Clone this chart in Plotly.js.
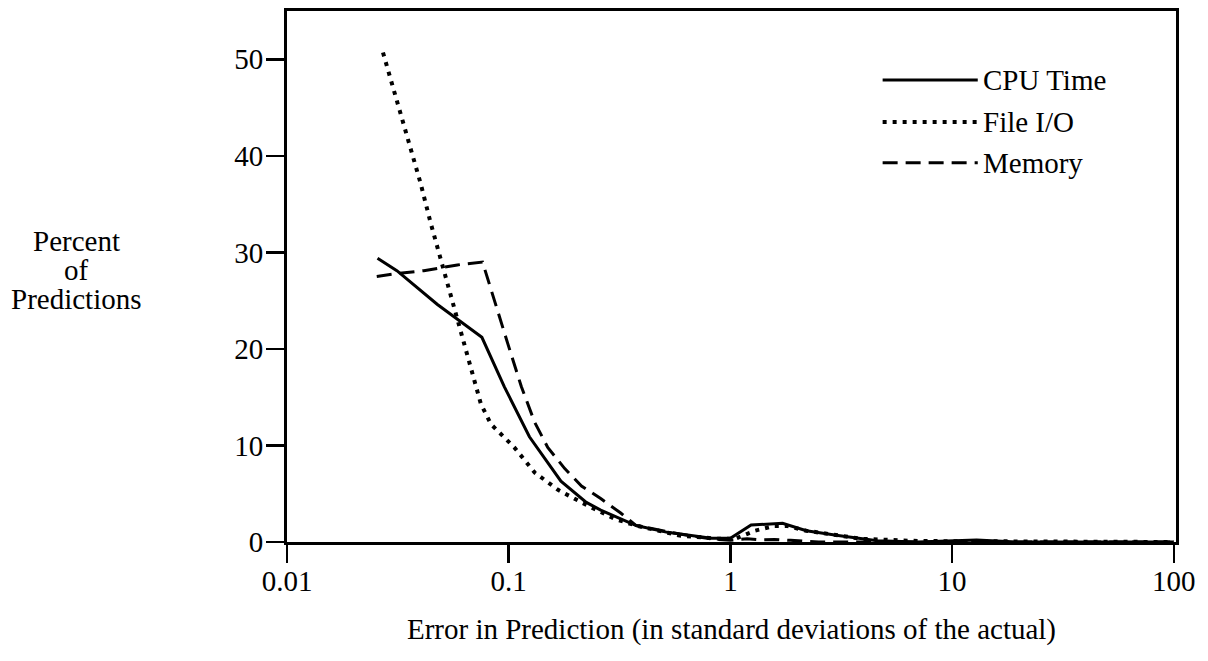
<!DOCTYPE html>
<html>
<head>
<meta charset="utf-8">
<script src="https://cdn.plot.ly/plotly-3.0.1.min.js"></script>
<style>html,body{margin:0;padding:0;background:#fff;}#chart{width:1208px;height:661px;}</style>
</head>
<body>
<div id="chart"></div>
<script>
// ---- data ----
const seriesNames = ["CPU Time", "File I/O", "Memory"];

const cpuX = [0.0256, 0.0313, 0.0477, 0.0587, 0.0757, 0.0955, 0.124, 0.172, 0.224, 0.26, 0.376, 0.52, 0.67, 0.82, 1.0, 1.24, 1.72, 2.2, 3.06, 4.6, 7.0, 10.5, 12.9, 19.5, 100];
const cpuY = [29.4, 28.1, 24.6, 23.1, 21.2, 16.1, 10.9, 6.3, 4.1, 3.3, 1.7, 1.0, 0.67, 0.4, 0.4, 1.77, 1.93, 1.17, 0.67, 0.13, 0.0, 0.13, 0.2, 0.0, 0.0];

const fileX = [0.0271, 0.0303, 0.0348, 0.040, 0.0444, 0.0493, 0.0547, 0.0608, 0.0675, 0.0749, 0.0832, 0.106, 0.131, 0.167, 0.213, 0.30, 0.376, 0.59, 0.89, 1.05, 1.29, 1.58, 1.79, 2.2, 3.9, 7.0, 100];
const fileY = [50.7, 46.9, 42.0, 37.2, 33.1, 29.4, 25.7, 21.7, 18.0, 14.3, 12.2, 9.8, 7.2, 5.4, 4.1, 2.4, 1.7, 0.67, 0.33, 0.33, 1.17, 1.67, 1.67, 1.17, 0.33, 0.1, 0.0];

const memX = [0.0254, 0.0313, 0.0414, 0.0587, 0.0762, 0.086, 0.0989, 0.114, 0.131, 0.150, 0.179, 0.213, 0.26, 0.32, 0.376, 0.59, 0.82, 1.0, 1.19, 1.34, 1.58, 1.87, 2.5, 100];
const memY = [27.5, 27.8, 28.1, 28.7, 29.0, 25.0, 20.6, 16.1, 12.4, 9.8, 7.6, 5.8, 4.5, 3.0, 1.7, 0.83, 0.33, 0.17, 0.33, 0.23, 0.27, 0.17, 0.0, 0.0];

const xTickVals = [0.01, 0.1, 1, 10, 100];
const xTickText = ["0.01", "0.1", "1", "10", "100"];
const yTickVals = [0, 10, 20, 30, 40, 50];

const xTitle = "Error in Prediction (in standard deviations of the actual)";
const yTitleLines = ["Percent", "of", "Predictions"];

// ---- styles ----
const FONT = "Liberation Serif, Times New Roman, serif";
const FS = 29;
const dashes = ["solid", "4px,6px", "15px,8px"];
const widths = [3, 4, 3];

const traces = [
  {x: cpuX, y: cpuY, name: seriesNames[0]},
  {x: fileX, y: fileY, name: seriesNames[1]},
  {x: memX, y: memY, name: seriesNames[2]}
].map((t, i) => Object.assign(t, {
  type: "scatter", mode: "lines", showlegend: false,
  line: {color: "#000", width: widths[i], dash: dashes[i]}
}));

// manual legend (long sample lines like the reference)
const legY = [0.870, 0.791, 0.714];
const shapes = [];
const annotations = [];
seriesNames.forEach((n, i) => {
  shapes.push({type: "line", xref: "paper", yref: "paper",
    x0: 0.670, x1: 0.777, y0: legY[i], y1: legY[i],
    line: {color: "#000", width: widths[i], dash: dashes[i]}});
  annotations.push({xref: "paper", yref: "paper", x: 0.781, y: legY[i],
    xanchor: "left", yanchor: "middle", text: n, showarrow: false,
    font: {family: FONT, size: FS, color: "#000"}});
});
// y title, three stacked lines
const yTitleY = [0.566, 0.512, 0.458];
yTitleLines.forEach((s, i) => {
  annotations.push({xref: "paper", yref: "paper", x: -0.237, y: yTitleY[i],
    xanchor: "center", yanchor: "middle", text: s, showarrow: false,
    font: {family: FONT, size: FS, color: "#000"}});
});

const layout = {
  width: 1208, height: 661,
  margin: {l: 287, r: 32, t: 11, b: 119},
  paper_bgcolor: "#fff", plot_bgcolor: "#fff",
  font: {family: FONT, size: FS, color: "#000"},
  showlegend: false,
  xaxis: {
    type: "log", range: [-2, 2.01],
    tickvals: xTickVals, ticktext: xTickText,
    ticks: "outside", ticklen: 18, tickwidth: 2.5, tickcolor: "#000",
    ticklabelstandoff: -7,
    showline: true, linecolor: "#000", linewidth: 3, mirror: true,
    showgrid: false, zeroline: false,
    title: {text: xTitle, font: {family: FONT, size: FS}, standoff: 23}
  },
  yaxis: {
    range: [0, 55], tickvals: yTickVals,
    ticks: "outside", ticklen: 18, tickwidth: 2.5, tickcolor: "#000",
    ticklabelstandoff: -3,
    showline: true, linecolor: "#000", linewidth: 3, mirror: true,
    showgrid: false, zeroline: false
  },
  shapes: shapes,
  annotations: annotations
};

Plotly.newPlot("chart", traces, layout, {displayModeBar: false, staticPlot: true});
</script>
</body>
</html>
